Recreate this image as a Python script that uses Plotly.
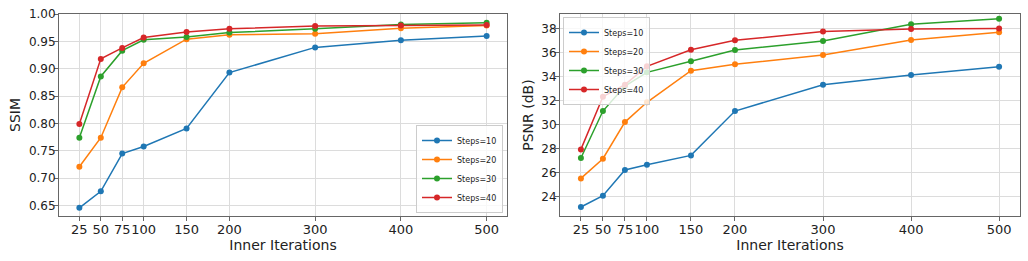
import plotly.graph_objects as go

iters = [25, 50, 75, 100, 150, 200, 300, 400, 500]
series_names = ["Steps=10", "Steps=20", "Steps=30", "Steps=40"]
colors = ["#1f77b4", "#ff7f0e", "#2ca02c", "#d62728"]

ssim_10 = [0.646, 0.676, 0.745, 0.758, 0.791, 0.893, 0.939, 0.952, 0.960]
ssim_20 = [0.721, 0.774, 0.866, 0.910, 0.954, 0.962, 0.964, 0.974, 0.979]
ssim_30 = [0.774, 0.886, 0.933, 0.953, 0.958, 0.966, 0.973, 0.981, 0.984]
ssim_40 = [0.799, 0.918, 0.938, 0.957, 0.967, 0.973, 0.978, 0.979, 0.980]

psnr_10 = [23.14, 24.08, 26.23, 26.67, 27.45, 31.15, 33.35, 34.16, 34.85]
psnr_20 = [25.53, 27.17, 30.23, 31.88, 34.52, 35.05, 35.83, 37.08, 37.72]
psnr_30 = [27.23, 31.15, 33.24, 34.38, 35.30, 36.25, 37.00, 38.39, 38.86]
psnr_40 = [27.95, 32.35, 33.35, 34.88, 36.27, 37.05, 37.78, 38.00, 38.03]

ssim_ticks = [0.65, 0.70, 0.75, 0.80, 0.85, 0.90, 0.95, 1.00]
psnr_ticks = [24, 26, 28, 30, 32, 34, 36, 38]

ssim_all = [ssim_10, ssim_20, ssim_30, ssim_40]
psnr_all = [psnr_10, psnr_20, psnr_30, psnr_40]

fig = go.Figure()
for name, c, ys in zip(series_names, colors, ssim_all):
    fig.add_trace(go.Scatter(x=iters, y=ys, mode="lines+markers", name=name,
                             line=dict(color=c, width=1.5), marker=dict(color=c, size=6),
                             xaxis="x", yaxis="y", legend="legend"))
for name, c, ys in zip(series_names, colors, psnr_all):
    fig.add_trace(go.Scatter(x=iters, y=ys, mode="lines+markers", name=name,
                             line=dict(color=c, width=1.5), marker=dict(color=c, size=6),
                             xaxis="x2", yaxis="y2", legend="legend2"))

W, H = 1028, 261
font = "DejaVu Sans"
grid = "#dcdcdc"
axcol = "#666666"
txt = "#222222"

common_x = dict(tickmode="array", tickvals=iters, ticktext=[str(v) for v in iters],
                range=[1.25, 523.75], showgrid=True, gridcolor=grid, gridwidth=1,
                showline=True, linecolor=axcol, linewidth=1, mirror=True,
                ticks="outside", ticklen=4, tickcolor=axcol, zeroline=False,
                automargin=False, tickangle=0, ticklabelstandoff=-3,
                tickfont=dict(size=13, color=txt),
                title=dict(text="Inner Iterations", font=dict(size=14, color=txt), standoff=1))
common_y = dict(showgrid=True, gridcolor=grid, gridwidth=1,
                showline=True, linecolor=axcol, linewidth=1, mirror=True,
                ticks="outside", ticklen=4, tickcolor=axcol, zeroline=False,
                automargin=False, ticklabelstandoff=-4,
                tickfont=dict(size=12, color=txt))

ydom = [1 - 216 / H, 1 - 14 / H]
fig.update_layout(
    width=W, height=H,
    margin=dict(l=0, r=0, t=0, b=0),
    paper_bgcolor="white", plot_bgcolor="white",
    font=dict(family=font, color=txt),
    xaxis=dict(domain=[59 / W, 507 / W], anchor="y", **common_x),
    yaxis=dict(domain=ydom, anchor="x", range=[0.631, 1.0], tickvals=ssim_ticks,
               ticktext=[f"{v:.2f}" for v in ssim_ticks],
               title=dict(text="SSIM", font=dict(size=14, color=txt), standoff=4), **common_y),
    xaxis2=dict(domain=[560 / W, 1020 / W], anchor="y2", **common_x),
    yaxis2=dict(domain=ydom, anchor="x2", range=[22.39, 39.25], tickvals=psnr_ticks,
                ticktext=[str(v) for v in psnr_ticks],
                title=dict(text="PSNR (dB)", font=dict(size=14, color=txt), standoff=4), **common_y),
    legend=dict(x=503 / W, y=1 - 213 / H, xanchor="right", yanchor="bottom",
                bgcolor="rgba(255,255,255,0.8)", bordercolor="#cccccc", borderwidth=1,
                font=dict(size=8, family=font, color=txt), tracegroupgap=0, itemwidth=30),
    legend2=dict(x=563 / W, y=1 - 17 / H, xanchor="left", yanchor="top",
                 bgcolor="rgba(255,255,255,0.8)", bordercolor="#cccccc", borderwidth=1,
                 font=dict(size=8, family=font, color=txt), tracegroupgap=0, itemwidth=30),
    showlegend=True,
)

fig.write_html("out.html", config={"displayModeBar": False})

# remove the default page margin so the figure sits at the window's top-left corner
with open("out.html", "r", encoding="utf-8") as f:
    html = f.read()
html = html.replace("<head>", "<head><style>html,body{margin:0;padding:0;overflow:hidden;}</style>", 1)
with open("out.html", "w", encoding="utf-8") as f:
    f.write(html)
